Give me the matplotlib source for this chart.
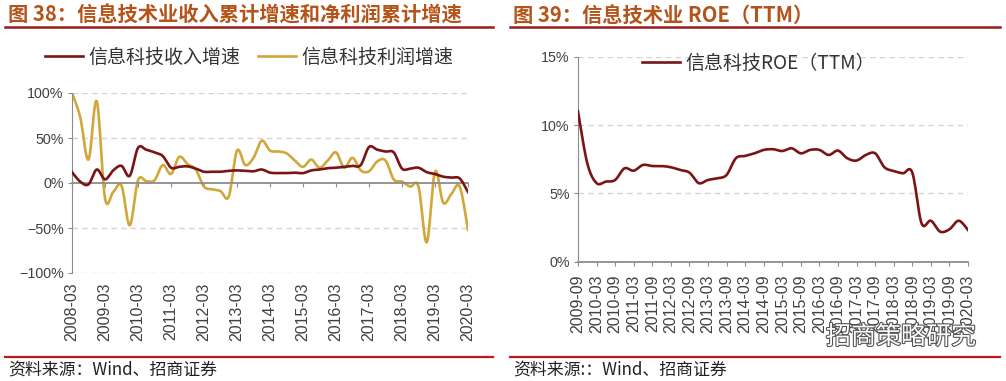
import numpy as np
import matplotlib
matplotlib.use("Agg")
import matplotlib.pyplot as plt
from matplotlib.lines import Line2D
import matplotlib.patheffects as pe

plt.rcParams.update({
    "font.family": ["Liberation Sans", "Noto Sans CJK SC"],
    "axes.unicode_minus": True,
})
CJK = ["Noto Sans CJK SC", "DejaVu Sans"]

C_REV = "#7a1416"    # dark maroon
C_PRO = "#d2a73a"    # gold
C_TTL = "#b5541a"    # title orange-brown
C_RULE = "#9b1b1b"
C_SRC = "#c0181e"
C_AX = "#8c8c8c"
C_GRID = "#d4d4d4"
C_TXT = "#404040"

# ---------------------------------------------------------------- data
# fig 38: quarterly, 2008-03 .. 2020-03 (cumulative yoy, %)
rev_growth = [12, 1.5, -1.5, 15, 4, 14, 19, 8, 39, 37, 34, 30, 17, 18, 18.5, 16,
              12.5, 12.5, 12.5, 13.5, 14, 13.5, 13, 15, 11.5, 11, 11, 11.5, 11, 14,
              15, 16.5, 17, 18, 19, 20, 40, 37, 35, 34, 16, 16, 17, 12, 10, 7,
              6, 5, -10]
profit_growth = [100, 73, 26, 91, -17, -10, -3, -47, 3, 2, 3, 20, 10, 29, 21, 15,
                 -4, -7, -9, -15, 36, 20, 28, 47, 36, 35, 33, 25, 18, 26, 17, 25,
                 34, 17, 28, 14, 13, 24, 25, 4, 1.5, -4, -4, -66, 12.5, -22, -12,
                 -4, -52]
years38 = ["2008-03", "2009-03", "2010-03", "2011-03", "2012-03", "2013-03", "2014-03",
           "2015-03", "2016-03", "2017-03", "2018-03", "2019-03", "2020-03"]

# fig 39: quarterly, 2009-09 .. 2020-03 (ROE TTM, %)
roe_ttm = [11.0, 7.2, 5.75, 5.86, 5.98, 6.83, 6.66, 7.08, 7.0, 7.0, 6.91, 6.71, 6.52,
           5.75, 5.98, 6.1, 6.35, 7.57, 7.74, 7.93, 8.18, 8.23, 8.1, 8.3, 7.93, 8.18,
           8.18, 7.81, 8.13, 7.57, 7.4, 7.81, 7.93, 6.91, 6.64, 6.47, 6.52, 2.81,
           3.0, 2.2, 2.37, 3.0, 2.32]
halfyears39 = ["2009-09", "2010-03", "2010-09", "2011-03", "2011-09", "2012-03",
               "2012-09", "2013-03", "2013-09", "2014-03", "2014-09", "2015-03",
               "2015-09", "2016-03", "2016-09", "2017-03", "2017-09", "2018-03",
               "2018-09", "2019-03", "2019-09", "2020-03"]


def smooth(y, n=12):
    """Excel-style smoothed line: cubic Bezier with Catmull-Rom tangents."""
    y = np.asarray(y, float)
    x = np.arange(len(y), dtype=float)
    xs, ys = [], []
    for i in range(len(y) - 1):
        x0, y0 = (x[i - 1], y[i - 1]) if i > 0 else (x[i], y[i])
        x3, y3 = (x[i + 2], y[i + 2]) if i + 2 < len(y) else (x[i + 1], y[i + 1])
        c1 = (x[i] + (x[i + 1] - x0) / 6, y[i] + (y[i + 1] - y0) / 6)
        c2 = (x[i + 1] - (x3 - x[i]) / 6, y[i + 1] - (y3 - y[i]) / 6)
        t = np.linspace(0, 1, n, endpoint=False)
        b0, b1, b2, b3 = (1 - t) ** 3, 3 * t * (1 - t) ** 2, 3 * t ** 2 * (1 - t), t ** 3
        xs.append(b0 * x[i] + b1 * c1[0] + b2 * c2[0] + b3 * x[i + 1])
        ys.append(b0 * y[i] + b1 * c1[1] + b2 * c2[1] + b3 * y[i + 1])
    xs.append([x[-1]]); ys.append([y[-1]])
    return np.concatenate(xs), np.concatenate(ys)


W, H = 1006, 381
fig = plt.figure(figsize=(W / 100, H / 100), dpi=100)


def px(x0, y0, x1, y1):
    return [x0 / W, 1 - y1 / H, (x1 - x0) / W, (y1 - y0) / H]


def frame(x0, x1, title):
    fig.text(x0 + 3 / W, 1 - 15 / H, title, color=C_TTL, fontsize=14.6, fontweight="bold",
             family=CJK, va="center", ha="left")
    fig.add_artist(Line2D([x0, x1], [1 - 27 / H] * 2, color=C_RULE, lw=1.8))
    fig.add_artist(Line2D([x0, x1], [1 - 357 / H] * 2, color=C_SRC, lw=1.6))


def pct(v, _):
    return f"{v:.0f}%".replace("-", "\u2212")


# ---------------------------------------------------------------- fig 38
frame(5 / W, 493 / W, "图 38：信息技术业收入累计增速和净利润累计增速")
fig.text(8 / W, 1 - 369 / H, "资料来源：Wind、招商证券", fontsize=12.2, family=CJK,
         color="#222", va="center")

ax = fig.add_axes(px(72, 93, 468, 273))
ax.set_xlim(0, len(rev_growth) - 1)
ax.set_ylim(-100, 100)
for v in (-100, -50, 50, 100):
    ax.axhline(v, color=C_GRID, lw=1.0, ls=(0, (4, 3)), zorder=0)
xr, yr = smooth(rev_growth)
xp, yp = smooth(profit_growth)
l1, = ax.plot(xr, yr, color=C_REV, lw=1.9, zorder=3, label="信息科技收入增速")
l2, = ax.plot(xp, yp, color=C_PRO, lw=1.9, zorder=2, label="信息科技利润增速")
for s in ("top", "right"):
    ax.spines[s].set_visible(False)
ax.spines["left"].set_color(C_AX)
ax.spines["bottom"].set_color(C_AX)
ax.spines["bottom"].set_linewidth(1.3)
ax.spines["bottom"].set_position(("data", 0))
ax.set_yticks([-100, -50, 0, 50, 100])
ax.yaxis.set_major_formatter(plt.FuncFormatter(pct))
ax.tick_params(axis="y", colors=C_AX, labelcolor=C_TXT, labelsize=10.3, length=3, pad=3)
ticks38 = np.arange(0, len(rev_growth), 4)
ax.set_xticks(ticks38)
ax.tick_params(axis="x", colors=C_AX, length=3, labelbottom=False)
sec = ax.secondary_xaxis("bottom")
sec.set_xticks(ticks38)
sec.set_xticklabels(years38, rotation=90, fontsize=11.5, color=C_TXT)
sec.tick_params(length=0, pad=7)
sec.spines["bottom"].set_visible(False)
fig.legend(handles=[l1, l2], loc="center left", bbox_to_anchor=(45 / W, 1 - 57 / H),
           ncol=2, frameon=False, prop={"family": CJK, "size": 13.7, "weight": "light"},
           handlelength=2.0, handletextpad=0.3, columnspacing=0.9, borderpad=0,
           borderaxespad=0, labelcolor="#333")

# ---------------------------------------------------------------- fig 39
frame(510 / W, 1000 / W, "图 39：信息技术业 ROE（TTM）")
fig.text(513 / W, 1 - 369 / H, "资料来源:：Wind、招商证券", fontsize=12.2, family=CJK,
         color="#222", va="center")

ax2 = fig.add_axes(px(578, 56.7, 968, 261.7))
ax2.set_xlim(0, len(roe_ttm) - 1)
ax2.set_ylim(0, 15)
for v in (5, 10, 15):
    ax2.axhline(v, color=C_GRID, lw=1.0, ls=(0, (4, 3)), zorder=0)
xo, yo = smooth(roe_ttm)
l3, = ax2.plot(xo, yo, color=C_REV, lw=1.9, zorder=3, label="信息科技ROE（TTM）")
for s in ("top", "right"):
    ax2.spines[s].set_visible(False)
for s in ("left", "bottom"):
    ax2.spines[s].set_color(C_AX)
ax2.spines["bottom"].set_linewidth(1.3)
ax2.set_yticks([0, 5, 10, 15])
ax2.yaxis.set_major_formatter(plt.FuncFormatter(pct))
ax2.tick_params(axis="y", colors=C_AX, labelcolor=C_TXT, labelsize=10.3, length=3, pad=3)
ax2.set_xticks(np.arange(0, len(roe_ttm), 2))
ax2.set_xticklabels(halfyears39, rotation=90, fontsize=11.5, color=C_TXT)
ax2.tick_params(axis="x", colors=C_AX, labelcolor=C_TXT, length=3, pad=6)
fig.legend(handles=[l3], loc="center left", bbox_to_anchor=(642 / W, 1 - 63 / H),
           frameon=False, prop={"family": CJK, "size": 13.7, "weight": "light"},
           handlelength=2.0, handletextpad=0.3, borderpad=0, borderaxespad=0,
           labelcolor="#333")

# watermark (overlaps the tick labels, as in the source image)
fig.text(826 / W, 1 - 337 / H, "招商策略研究", fontsize=18, family=CJK, color="white",
         va="center", ha="left", zorder=10,
         path_effects=[pe.withStroke(linewidth=1.6, foreground="#555")])

fig.savefig("out.png", dpi=100)
